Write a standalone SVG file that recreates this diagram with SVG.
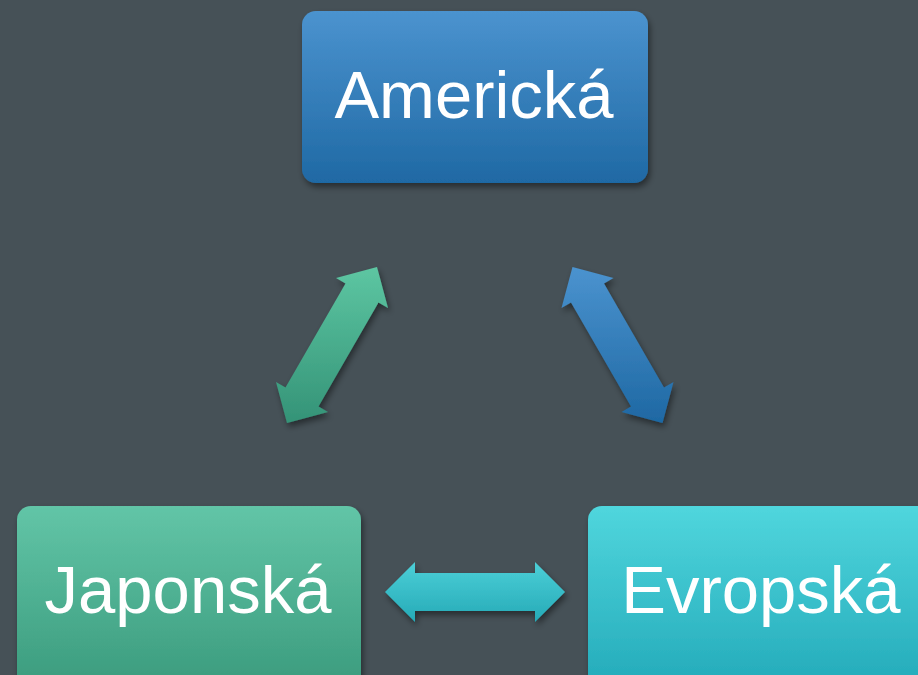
<svg xmlns="http://www.w3.org/2000/svg" width="918" height="675" viewBox="0 0 918 675">
  <defs>
    <linearGradient id="gBlue" x1="0" y1="0" x2="0" y2="1">
      <stop offset="0" stop-color="#4B93CF"/>
      <stop offset="1" stop-color="#1F69A4"/>
    </linearGradient>
    <linearGradient id="gGreen" x1="0" y1="0" x2="0" y2="1">
      <stop offset="0" stop-color="#62C5A7"/>
      <stop offset="1" stop-color="#379779"/>
    </linearGradient>
    <linearGradient id="gTeal" x1="0" y1="0" x2="0" y2="1">
      <stop offset="0" stop-color="#50D6DD"/>
      <stop offset="1" stop-color="#1FA6B6"/>
    </linearGradient>
    <linearGradient id="aGreen" gradientUnits="userSpaceOnUse" x1="0" y1="267" x2="0" y2="423">
      <stop offset="0" stop-color="#5DC6A2"/>
      <stop offset="1" stop-color="#349377"/>
    </linearGradient>
    <linearGradient id="aBlue" gradientUnits="userSpaceOnUse" x1="0" y1="267" x2="0" y2="423">
      <stop offset="0" stop-color="#4B93CF"/>
      <stop offset="1" stop-color="#1E68A3"/>
    </linearGradient>
    <linearGradient id="aTeal" gradientUnits="userSpaceOnUse" x1="0" y1="562" x2="0" y2="622">
      <stop offset="0" stop-color="#4CCFD7"/>
      <stop offset="1" stop-color="#25AAB7"/>
    </linearGradient>
    <filter id="shadow" x="-20%" y="-20%" width="140%" height="150%">
      <feDropShadow dx="2" dy="4" stdDeviation="3" flood-color="#000" flood-opacity="0.45"/>
    </filter>
  </defs>
  <style>
    .lbl { font-family: "Liberation Sans", Arial, sans-serif; font-size: 67px; fill: #ffffff; text-anchor: middle; }
  </style>
  <rect width="918" height="675" fill="#465157"/>

  <g id="node-americka">
    <rect x="302" y="11" width="346" height="172" rx="14" fill="url(#gBlue)" filter="url(#shadow)"/>
    <text class="lbl" x="474" y="118">Americká</text>
  </g>
  <g id="node-japonska">
    <rect x="17" y="506" width="344" height="200" rx="14" fill="url(#gGreen)" filter="url(#shadow)"/>
    <text class="lbl" x="188" y="613">Japonská</text>
  </g>
  <g id="node-evropska">
    <rect x="588" y="506" width="360" height="200" rx="14" fill="url(#gTeal)" filter="url(#shadow)"/>
    <text class="lbl" x="761" y="613">Evropská</text>
  </g>

  <g id="connectors" filter="url(#shadow)">
    <path fill="url(#aGreen)" d="M 287 422.9 L 276 382 L 285.5 387.5 L 345.5 283.5 L 336 278 L 377 267.1 L 388 308 L 378.5 302.5 L 318.5 406.5 L 328 412 Z"/>
    <path fill="url(#aBlue)" d="M 572.5 267.1 L 613.5 278 L 604 283.5 L 664 387.5 L 673.5 382 L 662.5 422.9 L 621.5 412 L 631 406.5 L 571 302.5 L 561.5 308 Z"/>
    <path fill="url(#aTeal)" d="M 385 592 L 415 562 L 415 573 L 535 573 L 535 562 L 565 592 L 535 622 L 535 611 L 415 611 L 415 622 Z"/>
  </g>
</svg>
